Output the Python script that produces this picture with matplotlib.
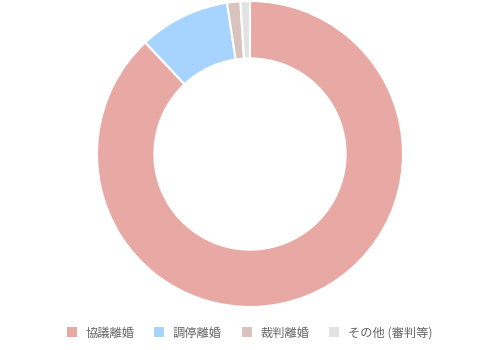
import matplotlib
matplotlib.use("Agg")
import matplotlib.pyplot as plt
from matplotlib.patches import Patch

plt.rcParams['font.family'] = ['Noto Sans CJK JP', 'DejaVu Sans']

labels = ['協議離婚', '調停離婚', '裁判離婚', 'その他 (審判等)']
values = [88.0, 9.6, 1.4, 1.0]
colors = ['#E8A8A3', '#A6D3FF', '#D8C3BE', '#E2E2E2']

W, H = 499, 350
fig = plt.figure(figsize=(W / 100, H / 100), dpi=100)
cx, cy, r = 250, 154, 153
ax = fig.add_axes([(cx - r) / W, (H - cy - r) / H, 2 * r / W, 2 * r / H])
ax.pie(values, colors=colors, startangle=90, counterclock=False, radius=1.0,
       wedgeprops=dict(width=0.375, edgecolor='white', linewidth=1.5))
ax.set_xlim(-1, 1)
ax.set_ylim(-1, 1)
ax.set_aspect('equal')
ax.axis('off')

handles = [Patch(facecolor=c, edgecolor='none') for c in colors]
leg = fig.legend(handles, labels, loc='center', bbox_to_anchor=(0.5, 1 - 333 / H),
                 ncol=4, frameon=False, fontsize=8.8, handlelength=0.85, handleheight=0.85,
                 columnspacing=1.6, handletextpad=0.7)
for t in leg.get_texts():
    t.set_color('#666666')

fig.savefig('out.png', dpi=100)
